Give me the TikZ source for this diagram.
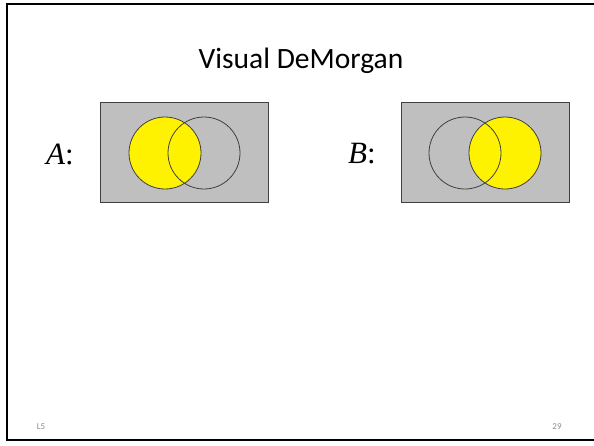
\documentclass[tikz,border=0pt]{standalone}
\usepackage{fontspec}
\setmainfont{Carlito}
\newfontfamily\timesfont{Liberation Serif}
\usepackage{tikz}

\begin{document}
\begin{tikzpicture}[x=1pt,y=-1pt]
		\tikzset{every node/.style={inner sep=0pt},
			venn/.style={draw=black!75,line width=0.8pt,fill=black!25,minimum width=168pt,minimum height=100pt},
			set/.style={circle,draw=black!75,line width=0.8pt,minimum size=72pt},
			setlabel/.style={font=\timesfont\fontsize{31}{31}\selectfont},
			foot/.style={text=black!45,font=\fontsize{9}{9}\selectfont}}
		\useasboundingbox (0,0) rectangle (594,445);
		% slide frame
		\draw [black,line width=2pt] (7,4) rectangle (600,440);
		\node (title) at (301,61) {\fontsize{29.5}{30}\selectfont Visual DeMorgan};
		% left diagram
		\node [setlabel] (labA) at (60,154) {\textit{A}:};
		\node [venn] (boxA) at (184,152) {};
		\node [set,fill=yellow] (a1) at (165,153) {};
		\node [set] (a2) at (204,153) {};
		% right diagram
		\node [setlabel] (labB) at (362,154) {\textit{B}:};
		\node [venn] (boxB) at (485,152) {};
		\node [set,fill=yellow] (b2) at (505,153) {};
		\node [set] (b1) at (465,153) {};
		% footer
		\node [foot] (lecture) at (41,427) {L5};
		\node [foot] (page) at (557,427) {29};
\end{tikzpicture}
\end{document}
